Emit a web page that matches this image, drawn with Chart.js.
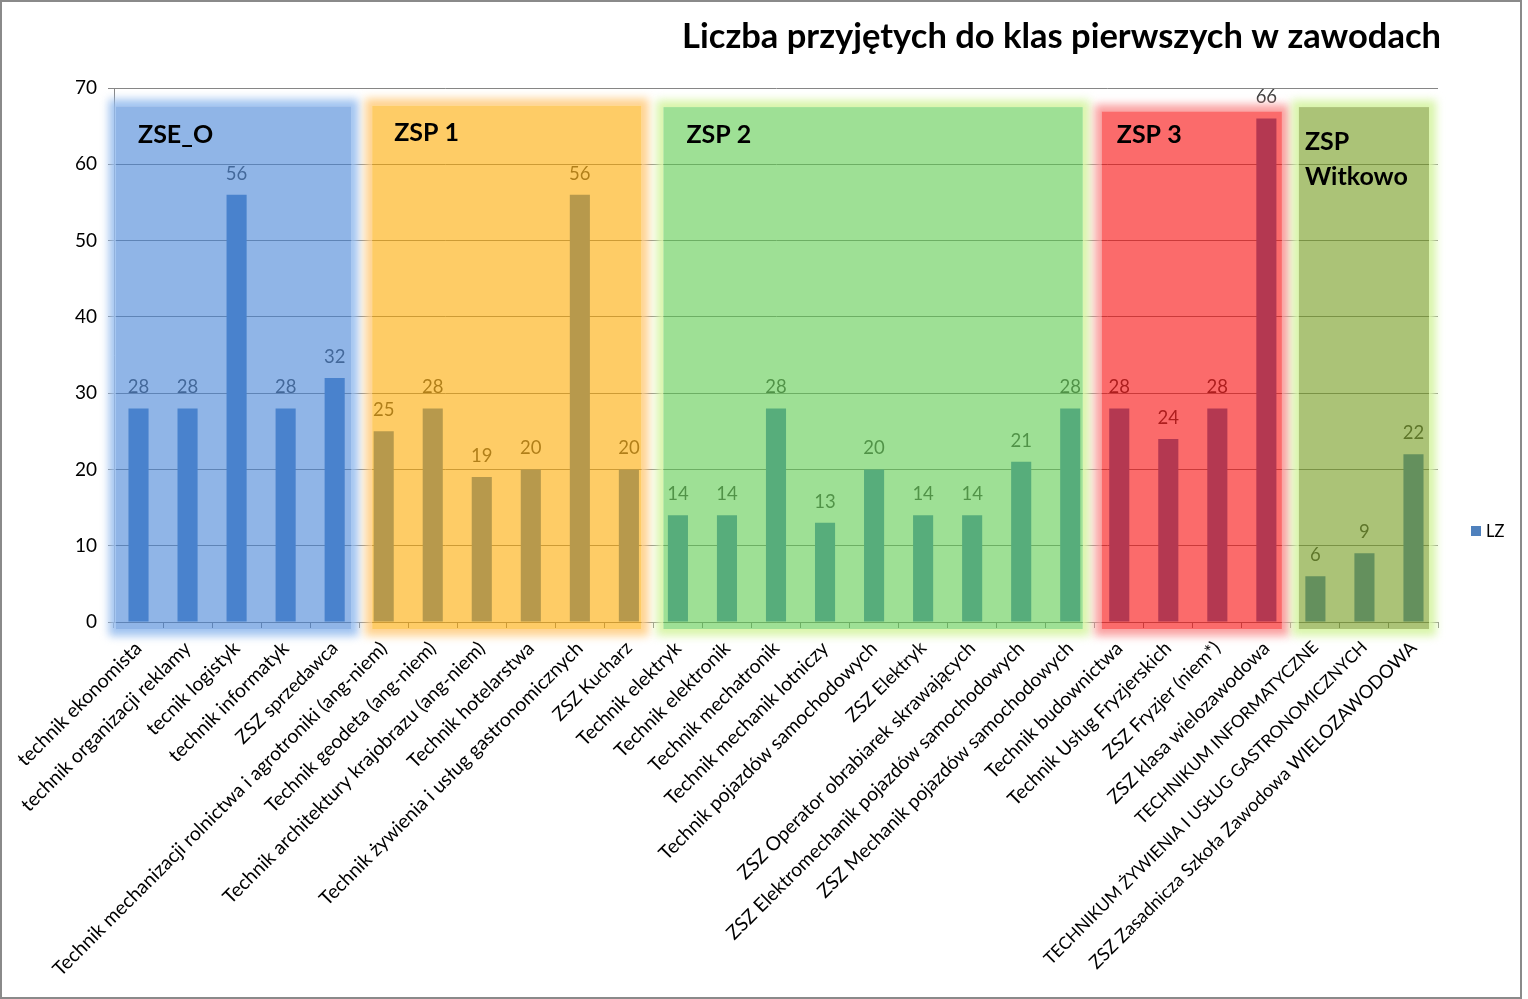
<!DOCTYPE html>
<html>
<head>
<meta charset="utf-8">
<script src="https://cdn.jsdelivr.net/npm/chart.js@4/dist/chart.umd.min.js"></script>
<style>
html,body{margin:0;padding:0;background:#fff;}
#wrap{width:1528px;height:999px;position:relative;}
canvas{display:block;}
</style>
</head>
<body>
<div id="wrap"><canvas id="c" width="1528" height="999"></canvas></div>
<script>
// ---- data ----
const categories = [
  'technik ekonomista',
  'technik organizacji reklamy',
  'tecnik logistyk',
  'technik informatyk',
  'ZSZ sprzedawca',
  'Technik mechanizacji rolnictwa i agrotroniki (ang-niem)',
  'Technik geodeta (ang-niem)',
  'Technik architektury krajobrazu (ang-niem)',
  'Technik hotelarstwa',
  'Technik żywienia i usług gastronomicznych',
  'ZSZ Kucharz',
  'Technik elektryk',
  'Technik elektronik',
  'Technik mechatronik',
  'Technik mechanik lotniczy',
  'Technik pojazdów samochodowych',
  'ZSZ Elektryk',
  'ZSZ Operator obrabiarek skrawających',
  'ZSZ Elektromechanik pojazdów samochodowych',
  'ZSZ Mechanik pojazdów samochodowych',
  'Technik budownictwa',
  'Technik Usług Fryzjerskich',
  'ZSZ Fryzjer (niem*)',
  'ZSZ klasa wielozawodowa',
  'TECHNIKUM INFORMATYCZNE',
  'TECHNIKUM ŻYWIENIA I USŁUG GASTRONOMICZNYCH',
  'ZSZ Zasadnicza Szkoła Zawodowa WIELOZAWODOWA'
];
const valuesLZ = [28,28,56,28,32, 25,28,19,20,56,20, 14,14,28,13,20,14,14,21,28, 28,24,28,66, 6,9,22];
const seriesName = 'LZ';
const yTicks = [0,10,20,30,40,50,60,70];
const titleText = 'Liczba przyjętych do klas pierwszych w zawodach';

const groupNames = [['ZSE_O'],['ZSP 1'],['ZSP 2'],['ZSP 3'],['ZSP','Witkowo']];
const groupFirst = [0,5,11,20,24];
const groupLast  = [4,10,19,23,26];

// ---- styles ----
const groupFill = ['rgba(70,132,215,0.6)','rgba(253,170,0,0.6)','rgba(93,203,78,0.6)','rgba(248,8,8,0.6)','rgba(115,155,28,0.6)'];
const groupGlow = ['rgba(150,188,238,0.9)','rgba(255,205,130,0.9)','rgba(215,244,165,0.95)','rgba(250,150,150,0.9)','rgba(215,244,165,0.95)'];
const groupInsetL = [2,13,10,7,8];
const groupInsetR = [8,12,12,9,9];
const groupTopVal = [67.6,67.7,67.5,66.9,67.5];
const groupLabelDX = [22,22,23,15,6];
const groupLabelY  = [135,133,135,135,142];

const FONT = 'Lato, "Open Sans", sans-serif';

// Lato capitals are wider than the original face's; shrink mostly-uppercase labels a little
function tickFontSize(label){
  const letters = label.replace(/[^A-Za-zĄĆĘŁŃÓŚŹŻąćęłńóśźż]/g, '');
  const caps = label.replace(/[^A-ZĄĆĘŁŃÓŚŹŻ]/g, '');
  const frac = letters.length ? caps.length / letters.length : 0;
  return 19.5 - 2.3 * frac;
}

const overlayPlugin = {
  id: 'overlays',
  beforeDraw(chart){
    const ctx = chart.ctx;
    ctx.save();
    ctx.fillStyle = '#fff';
    ctx.fillRect(0,0,chart.width,chart.height);
    ctx.strokeStyle = '#8a8a8a';
    ctx.lineWidth = 2;
    ctx.strokeRect(1,1,1520,997);
    ctx.restore();
  },
  afterDatasetsDraw(chart){
    const ctx = chart.ctx;
    const xs = chart.scales.x, ys = chart.scales.y;
    const meta = chart.getDatasetMeta(0);
    // data labels
    ctx.save();
    ctx.font = '18.5px ' + FONT;
    ctx.fillStyle = '#404040';
    ctx.textAlign = 'center';
    ctx.textBaseline = 'middle';
    meta.data.forEach((bar, i) => {
      ctx.fillText(String(valuesLZ[i]), bar.x, bar.y - 21);
    });
    ctx.restore();
    // group overlays
    const step = xs.getPixelForValue(1) - xs.getPixelForValue(0);
    groupFirst.forEach((g, k) => {
      const x0 = xs.getPixelForValue(groupFirst[k]) - step/2 + groupInsetL[k];
      const x1 = xs.getPixelForValue(groupLast[k]) + step/2 - groupInsetR[k];
      const y0 = ys.getPixelForValue(groupTopVal[k]);
      const y1 = ys.getPixelForValue(0) + 7;
      const w = x1 - x0, h = y1 - y0;
      ctx.save();
      ctx.beginPath();
      ctx.rect(x0-40, y0-40, w+80, h+80);
      ctx.rect(x0, y0, w, h);
      ctx.clip('evenodd');
      ctx.filter = 'blur(4px)';
      ctx.fillStyle = groupGlow[k];
      ctx.fillRect(x0-7, y0-7, w+14, h+14);
      ctx.restore();
      ctx.save();
      ctx.fillStyle = groupFill[k];
      ctx.fillRect(x0, y0, w, h);
      ctx.fillStyle = '#000';
      ctx.font = 'bold 25px ' + FONT;
      ctx.textAlign = 'left';
      ctx.textBaseline = 'middle';
      groupNames[k].forEach((line, j) => {
        ctx.fillText(line, x0 + groupLabelDX[k], groupLabelY[k] + j*35);
      });
      ctx.restore();
    });
  },
  afterDraw(chart){
    const ctx = chart.ctx;
    ctx.save();
    // title
    ctx.font = 'bold 34.5px ' + FONT;
    ctx.fillStyle = '#000';
    ctx.textAlign = 'right';
    ctx.textBaseline = 'middle';
    ctx.fillText(titleText, 1441, 37);
    // legend
    ctx.fillStyle = '#4F81BD';
    ctx.fillRect(1471, 526, 10, 10);
    ctx.fillStyle = '#000';
    ctx.font = '16.5px ' + FONT;
    ctx.textAlign = 'left';
    ctx.fillText(seriesName, 1486, 532);
    ctx.restore();
  }
};

new Chart(document.getElementById('c'), {
  type: 'bar',
  data: {
    labels: categories,
    datasets: [{
      label: seriesName,
      data: valuesLZ,
      backgroundColor: '#4F81BD',
      barPercentage: 0.41,
      categoryPercentage: 1.0
    }]
  },
  options: {
    responsive: false,
    animation: false,
    devicePixelRatio: 1,
    layout: { padding: { top: 88, right: 90, left: 0, bottom: 0 } },
    plugins: { legend: { display: false }, title: { display: false }, tooltip: { enabled: false } },
    scales: {
      x: {
        grid: { display: true, drawOnChartArea: false, drawTicks: true, tickLength: 6, color: '#868686', offset: true },
        border: { display: true, color: '#868686' },
        ticks: {
          autoSkip: false, maxRotation: 45, minRotation: 45, color: '#000', padding: 9,
          font: (c) => ({ family: FONT, size: tickFontSize(categories[c.index] || '') })
        },
        afterFit(scale){ scale.height = 377; }
      },
      y: {
        min: 0, max: 70,
        afterBuildTicks(scale){ scale.ticks = yTicks.map(v => ({ value: v })); },
        grid: { color: '#868686', tickLength: 6, drawTicks: true },
        border: { display: true, color: '#868686' },
        ticks: { color: '#000', font: { family: FONT, size: 19 }, padding: 11 },
        afterFit(scale){ scale.width = 114; }
      }
    }
  },
  plugins: [overlayPlugin]
});
</script>
</body>
</html>
